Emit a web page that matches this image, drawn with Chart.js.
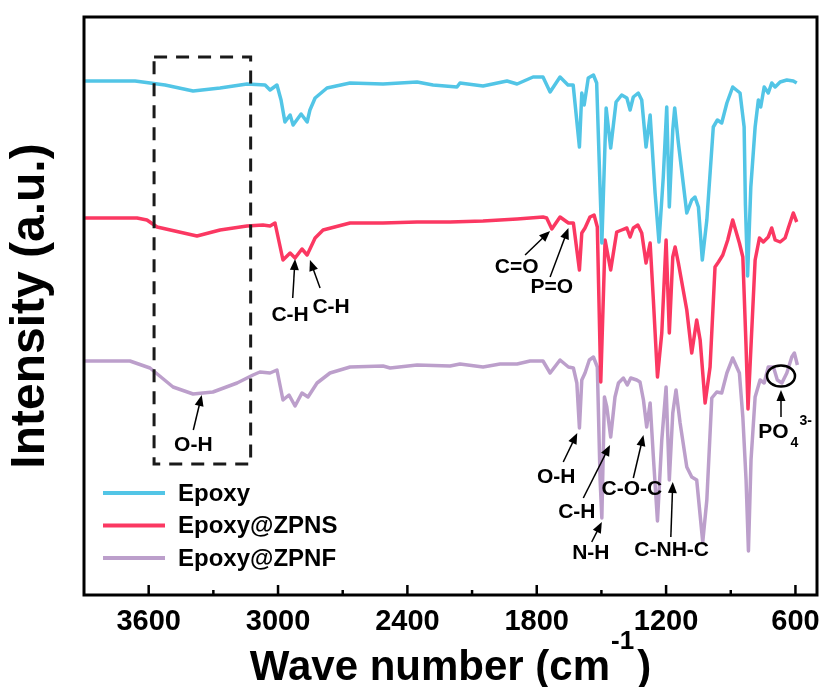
<!DOCTYPE html>
<html>
<head>
<meta charset="utf-8">
<title>FTIR spectra</title>
<script src="https://cdn.jsdelivr.net/npm/chart.js@4.4.0/dist/chart.umd.min.js"></script>
<style>
  html, body { margin: 0; padding: 0; background: #fff; }
  canvas { display: block; }
</style>
</head>
<body>
<canvas id="ftir" width="824" height="687"></canvas>
<script>
// wave number (cm-1) / intensity (a.u., curves offset)
const epoxyWave = [3895, 3663, 3524, 3394, 3269, 3144, 3060, 3037, 3005, 2986, 2968, 2944, 2930, 2893, 2865, 2852, 2828, 2773, 2666, 2513,
  2355, 2281, 2170, 2156, 2049, 1938, 1891, 1817, 1771, 1738, 1692, 1655, 1631, 1602, 1591, 1580, 1561, 1537, 1522, 1498,
  1478, 1457, 1432, 1406, 1382, 1367, 1352, 1329, 1313, 1293, 1274, 1251, 1233, 1213, 1197, 1185, 1169, 1160, 1143, 1104,
  1081, 1066, 1050, 1032, 1011, 981, 962, 942, 918, 891, 857, 838, 832, 822, 807, 787, 772, 761, 745, 726, 710, 694, 671, 640, 610, 594];
const epoxyInt = [514, 514, 510, 504, 507, 511, 510, 505, 510, 495, 473, 480, 470, 481, 473, 485, 497, 507, 512, 511,
  513, 510, 508, 512, 509, 514, 511, 518, 518, 503, 518, 510, 510, 448, 502, 490, 517, 520, 512, 352,
  487, 447, 493, 500, 497, 485, 498, 502, 495, 448, 480, 402, 353, 418, 488, 388, 465, 487, 452, 382,
  395, 398, 388, 335, 375, 468, 475, 472, 492, 508, 502, 468, 390, 319, 408, 468, 495, 488, 508, 502, 512, 508, 513, 515, 514, 512];

const zpnsWave = [3895, 3654, 3608, 3561, 3376, 3269, 3144, 3070, 3037, 3014, 2977, 2944, 2921, 2889, 2865, 2828, 2791, 2666, 2513, 2355,
  2202, 2049, 1891, 1771, 1754, 1730, 1692, 1653, 1630, 1602, 1591, 1576, 1553, 1534, 1519, 1503, 1483, 1457, 1429, 1406,
  1382, 1367, 1352, 1331, 1313, 1293, 1274, 1259, 1240, 1220, 1200, 1185, 1169, 1158, 1143, 1104, 1081, 1058, 1042, 1019,
  996, 973, 957, 937, 914, 891, 860, 844, 829, 820, 807, 787, 767, 749, 726, 710, 694, 671, 648, 633, 610, 594];
const zpnsInt = [377, 377, 375, 368, 359, 365, 369, 370, 369, 372, 335, 342, 337, 346, 340, 357, 365, 372, 372, 373,
  373, 374, 376, 378, 377, 366, 378, 372, 372, 325, 362, 367, 378, 380, 368, 213, 355, 325, 363, 365,
  367, 358, 367, 370, 362, 332, 352, 295, 218, 262, 355, 262, 338, 348, 332, 285, 242, 275, 255, 192,
  228, 328, 333, 340, 355, 375, 352, 338, 248, 186, 245, 335, 357, 353, 358, 367, 355, 353, 357, 367, 382, 373];

const zpnfWave = [3895, 3687, 3594, 3487, 3394, 3302, 3190, 3116, 3084, 3037, 3005, 2977, 2949, 2921, 2889, 2861, 2819, 2759, 2666, 2513,
  2480, 2355, 2202, 2156, 2049, 1970, 1891, 1831, 1771, 1738, 1692, 1653, 1630, 1614, 1602, 1591, 1576, 1556, 1537, 1519,
  1506, 1498, 1486, 1475, 1457, 1437, 1421, 1398, 1380, 1364, 1336, 1321, 1305, 1290, 1274, 1259, 1240, 1220, 1200, 1185,
  1169, 1154, 1135, 1104, 1081, 1058, 1030, 1011, 988, 965, 942, 918, 891, 860, 844, 829, 818, 806, 787, 764,
  745, 726, 702, 684, 663, 640, 617, 605, 591];
const zpnfInt = [234, 234, 227, 208, 201, 203, 212, 220, 223, 222, 225, 195, 200, 189, 202, 198, 212, 222, 228, 229,
  227, 230, 229, 231, 228, 231, 231, 234, 234, 222, 235, 228, 227, 212, 167, 215, 222, 235, 238, 228,
  115, 77, 198, 188, 158, 198, 212, 217, 210, 217, 215, 213, 195, 168, 192, 138, 74, 155, 208, 115,
  182, 205, 172, 128, 118, 115, 53, 95, 197, 203, 202, 222, 237, 222, 178, 115, 44, 135, 198, 215,
  212, 228, 228, 215, 212, 222, 238, 242, 230];

const xTicks = [3600, 3000, 2400, 1800, 1200, 600];
const xMinorTicks = [3300, 2700, 2100, 1500, 900];

// band assignments: label position, arrow tail, arrow head (data coords)
const bandLabels = [
  { text: 'C-H', at: [2944, 280], from: [2932, 297], to: [2921, 336] },
  { text: 'C-H', at: [2754, 288], from: [2805, 307], to: [2852, 335] },
  { text: 'C=O', at: [1893, 328], from: [1854, 340], to: [1738, 364] },
  { text: 'P=O', at: [1730, 308], from: [1738, 318], to: [1653, 367] },
  { text: 'O-H', at: [3393, 150], from: [3393, 165], to: [3354, 200] },
  { text: 'O-H', at: [1710, 118], from: [1677, 133], to: [1612, 162] },
  { text: 'C-H', at: [1614, 83], from: [1584, 97], to: [1460, 150] },
  { text: 'N-H', at: [1549, 42], from: [1545, 53], to: [1498, 73] },
  { text: 'C-O-C', at: [1359, 106], from: [1352, 117], to: [1305, 160] },
  { text: 'C-NH-C', at: [1174, 45], from: [1178, 58], to: [1169, 113] }
];
const oh_box = [3575, 3127, 538, 131];
const po4 = { ring: [667, 219], from: [667, 178], to: [667, 205], at: [702, 163] };

const FONT = '"Liberation Sans", Arial, sans-serif';
const toPoints = (w, v) => w.map((x, i) => ({ x: x, y: v[i] }));

function drawArrow(ctx, x1, y1, x2, y2) {
    const ang = Math.atan2(y2 - y1, x2 - x1);
    const len = 11, half = 4.5;
    const cx = Math.cos(ang), sy = Math.sin(ang);
    ctx.beginPath();
    ctx.moveTo(x1, y1);
    ctx.lineTo(x2 - cx * len * 0.7, y2 - sy * len * 0.7);
    ctx.stroke();
    ctx.beginPath();
    ctx.moveTo(x2, y2);
    ctx.lineTo(x2 - cx * len + sy * half, y2 - sy * len - cx * half);
    ctx.lineTo(x2 - cx * len - sy * half, y2 - sy * len + cx * half);
    ctx.closePath();
    ctx.fill();
}

const decorations = {
    id: 'decorations',
    afterDraw(chart) {
        const { ctx, chartArea: a, scales: { x, y } } = chart;
        const px = v => x.getPixelForValue(v);
        const py = v => y.getPixelForValue(v);
        ctx.save();
        ctx.strokeStyle = '#000';
        ctx.fillStyle = '#000';

        // inward ticks on the bottom axis
        ctx.lineWidth = 2.5;
        xTicks.forEach(v => {
            ctx.beginPath(); ctx.moveTo(px(v), a.bottom); ctx.lineTo(px(v), a.bottom - 10); ctx.stroke();
        });
        xMinorTicks.forEach(v => {
            ctx.beginPath(); ctx.moveTo(px(v), a.bottom); ctx.lineTo(px(v), a.bottom - 5); ctx.stroke();
        });

        // frame
        ctx.lineWidth = 3;
        ctx.strokeRect(a.left, a.top, a.right - a.left, a.bottom - a.top);

        // dashed O-H region
        ctx.save();
        ctx.strokeStyle = '#1a1a1a';
        ctx.lineWidth = 3;
        ctx.setLineDash([13, 9]);
        ctx.strokeRect(px(oh_box[0]), py(oh_box[2]), px(oh_box[1]) - px(oh_box[0]), py(oh_box[3]) - py(oh_box[2]));
        ctx.restore();

        // band labels and arrows
        ctx.lineWidth = 1.5;
        ctx.font = 'bold 21px ' + FONT;
        ctx.textAlign = 'center';
        ctx.textBaseline = 'middle';
        bandLabels.forEach(b => {
            drawArrow(ctx, px(b.from[0]), py(b.from[1]), px(b.to[0]), py(b.to[1]));
            ctx.fillText(b.text, px(b.at[0]), py(b.at[1]));
        });

        // PO4 3- ring
        ctx.lineWidth = 2.5;
        ctx.beginPath();
        ctx.ellipse(px(po4.ring[0]), py(po4.ring[1]), 14, 10.5, 0, 0, Math.PI * 2);
        ctx.stroke();
        ctx.lineWidth = 1.5;
        drawArrow(ctx, px(po4.from[0]), py(po4.from[1]), px(po4.to[0]), py(po4.to[1]));
        const poX = px(po4.at[0]), poY = py(po4.at[1]);
        ctx.fillText('PO', poX, poY);
        ctx.font = 'bold 14px ' + FONT;
        ctx.textAlign = 'left';
        ctx.fillText('4', poX + 17, poY + 11);
        ctx.fillText('3-', poX + 26, poY - 11);

        // legend
        const rows = chart.data.datasets;
        ctx.font = 'bold 24px ' + FONT;
        rows.forEach((ds, i) => {
            const ly = a.bottom - 102 + i * 32.5;
            ctx.strokeStyle = ds.borderColor;
            ctx.lineWidth = 4;
            ctx.beginPath(); ctx.moveTo(a.left + 19, ly); ctx.lineTo(a.left + 81, ly); ctx.stroke();
            ctx.fillStyle = '#000';
            ctx.fillText(ds.label, a.left + 94, ly + 1);
        });

        // axis titles
        ctx.fillStyle = '#000';
        ctx.save();
        ctx.translate(31, (a.top + a.bottom) / 2);
        ctx.rotate(-Math.PI / 2);
        ctx.font = 'bold 48px ' + FONT;
        ctx.textAlign = 'center';
        ctx.fillText('Intensity (a.u.)', 0, 0);
        ctx.restore();

        ctx.textBaseline = 'alphabetic';
        ctx.textAlign = 'left';
        const main = 'Wave number (cm', sup = '-1', close = ')';
        ctx.font = 'bold 42px ' + FONT;
        const wMain = ctx.measureText(main).width, wClose = ctx.measureText(close).width;
        ctx.font = 'bold 26px ' + FONT;
        const wSup = ctx.measureText(sup).width;
        let tx = (a.left + a.right) / 2 - (wMain + wSup + wClose + 4) / 2;
        const base = 680;
        ctx.font = 'bold 42px ' + FONT;
        ctx.fillText(main, tx, base);
        tx += wMain + 1;
        ctx.font = 'bold 26px ' + FONT;
        ctx.fillText(sup, tx, base - 31);
        tx += wSup + 3;
        ctx.font = 'bold 42px ' + FONT;
        ctx.fillText(close, tx, base);

        ctx.restore();
    }
};

const chart = new Chart(document.getElementById('ftir'), {
    type: 'line',
    data: {
        datasets: [
            { label: 'Epoxy', data: toPoints(epoxyWave, epoxyInt), borderColor: '#52c5e6' },
            { label: 'Epoxy@ZPNS', data: toPoints(zpnsWave, zpnsInt), borderColor: '#fb3862' },
            { label: 'Epoxy@ZPNF', data: toPoints(zpnfWave, zpnfInt), borderColor: '#bc9fcb' }
        ]
    },
    options: {
        responsive: false,
        animation: false,
        devicePixelRatio: 1,
        layout: { padding: { left: 84, right: 7, top: 17, bottom: 0 } },
        elements: {
            point: { radius: 0 },
            line: { borderWidth: 3.5, tension: 0, fill: false, borderJoinStyle: 'round' }
        },
        plugins: {
            legend: { display: false },
            tooltip: { enabled: false }
        },
        scales: {
            x: {
                type: 'linear',
                reverse: true,
                min: 500,
                max: 3900,
                border: { display: false },
                grid: { display: false, drawTicks: false },
                afterBuildTicks: axis => { axis.ticks = xTicks.map(v => ({ value: v })); },
                afterFit: axis => {
                    axis.height = 92;
                    axis.paddingLeft = 0;
                    axis.paddingRight = 0;
                },
                ticks: {
                    padding: 10,
                    color: '#000',
                    autoSkip: false,
                    maxRotation: 0,
                    font: { family: FONT, size: 29, weight: 'bold' },
                    callback: v => String(v)
                }
            },
            y: { display: false, min: 0, max: 578 }
        }
    },
    plugins: [decorations]
});
</script>
</body>
</html>
